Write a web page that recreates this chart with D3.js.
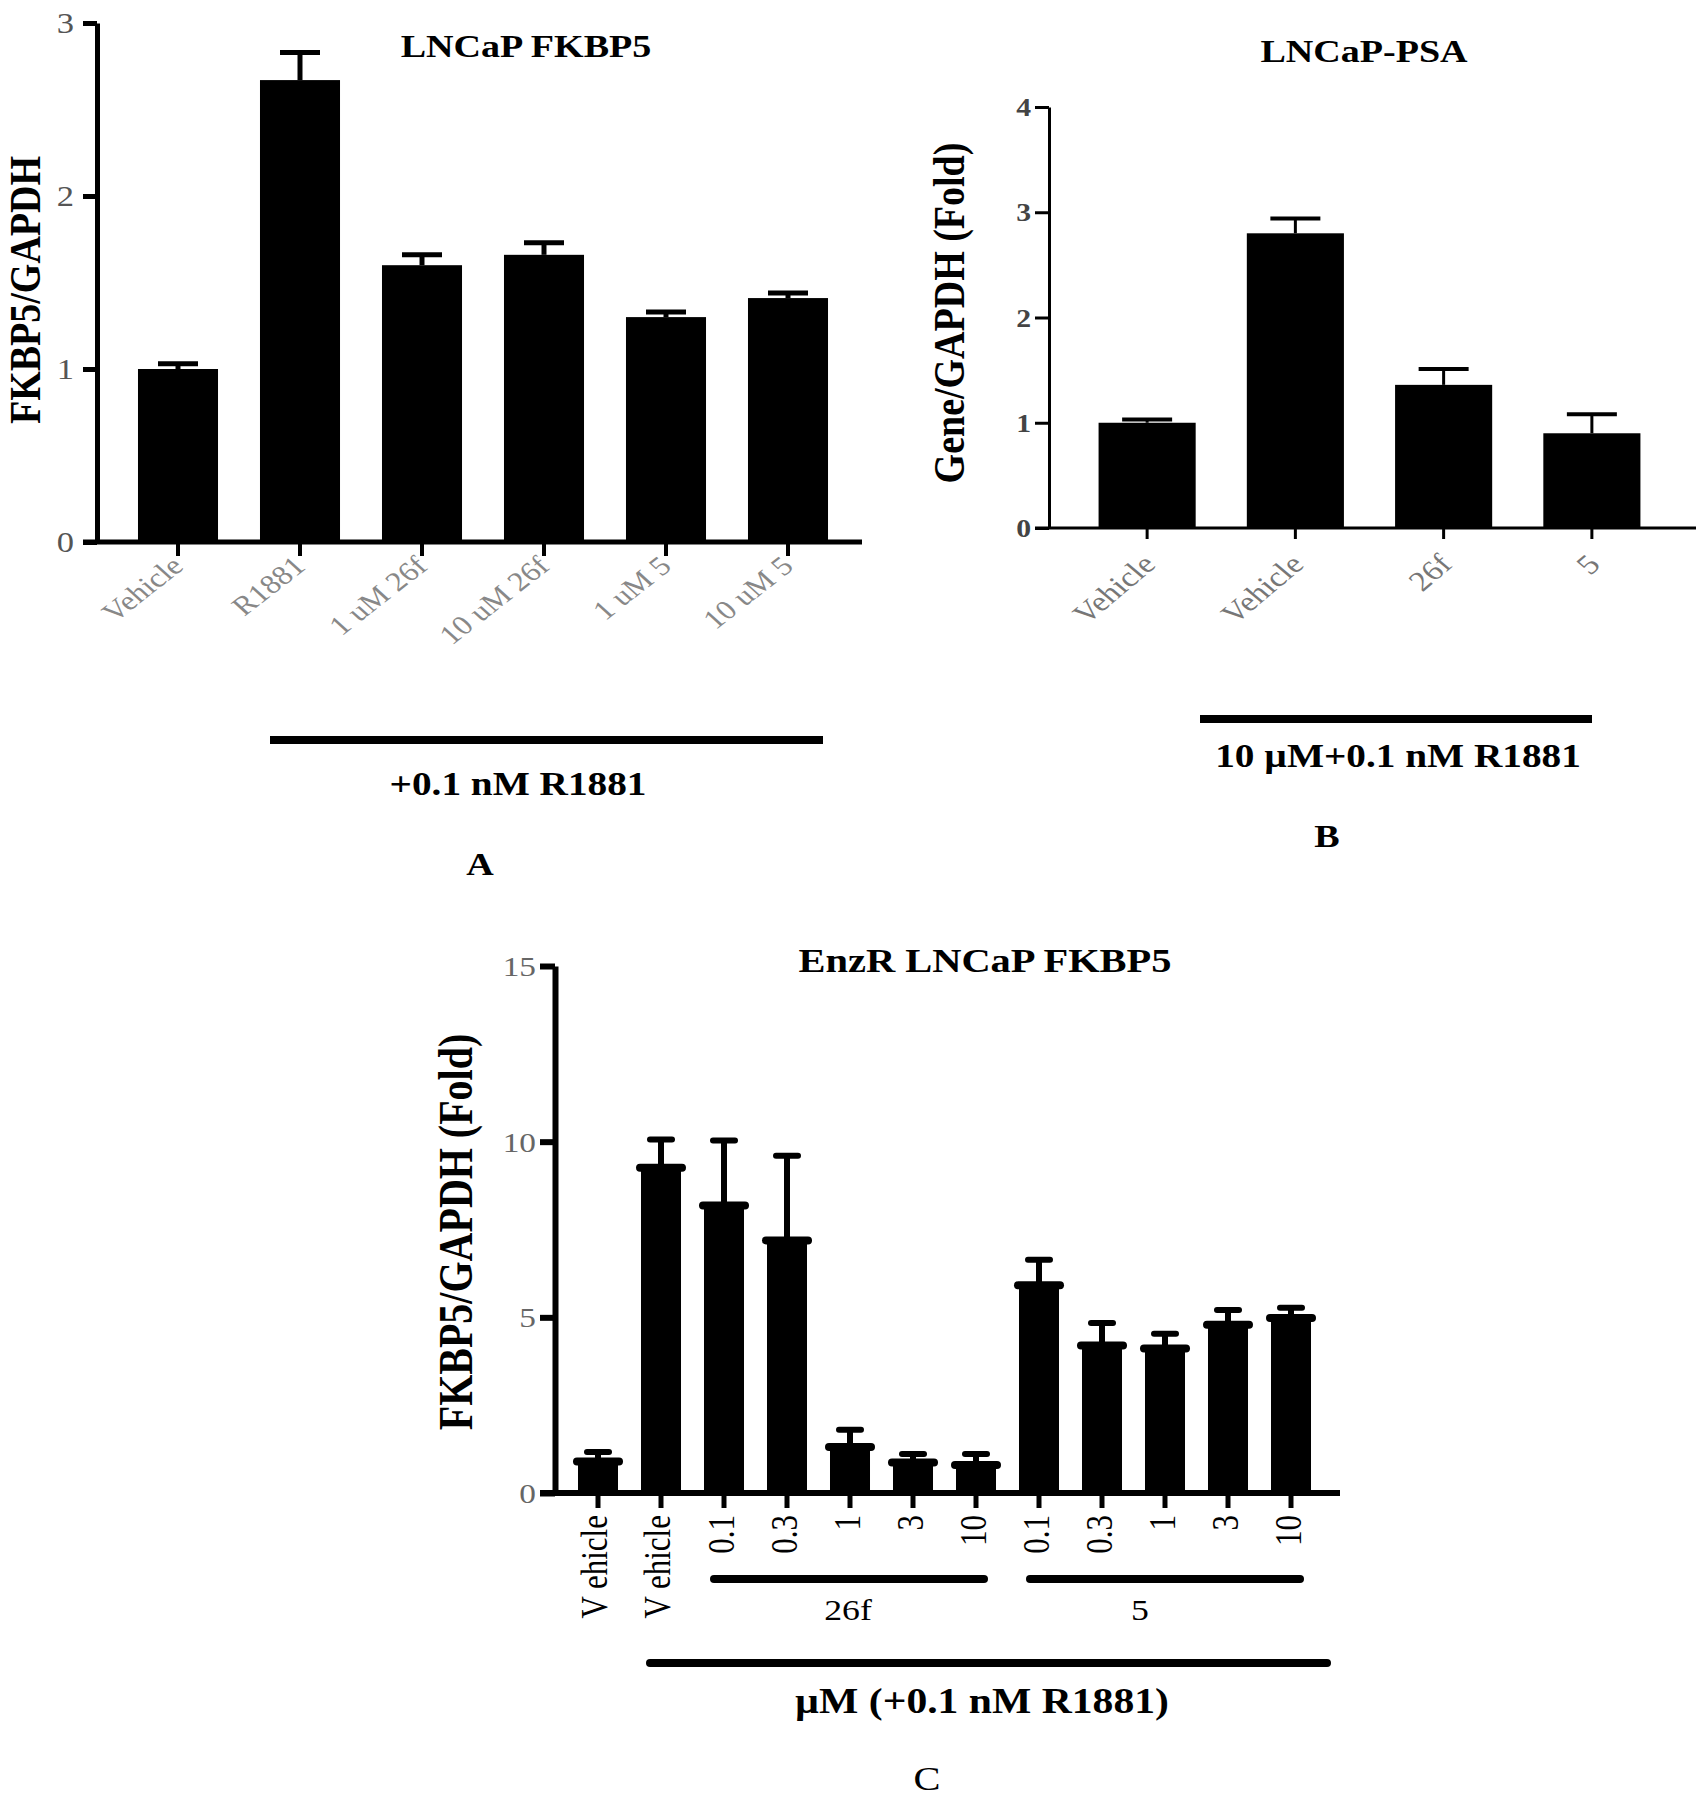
<!DOCTYPE html>
<html>
<head>
<meta charset="utf-8">
<script src="https://cdn.jsdelivr.net/npm/d3@7"></script>
<style>
  body { margin: 0; background: #fff; }
  svg { display: block; font-family: "Liberation Serif", "Times New Roman", serif; }
</style>
</head>
<body>
<div id="chart"></div>
<script>
// panel A - LNCaP FKBP5
var aCats = ["Vehicle", "R1881", "1 uM 26f", "10 uM 26f", "1 uM 5", "10 uM 5"];
var aMeans = [1.00, 2.67, 1.60, 1.66, 1.30, 1.41];
var aErrs = [0.03, 0.16, 0.06, 0.07, 0.03, 0.03];
var aTicks = [0, 1, 2, 3];

// panel B - LNCaP-PSA
var bCats = ["Vehicle", "Vehicle ", "26f", "5"];
var bMeans = [1.00, 2.80, 1.36, 0.90];
var bErrs = [0.03, 0.14, 0.15, 0.18];
var bTicks = [0, 1, 2, 3, 4];

// panel C - EnzR LNCaP FKBP5
var cKeys = ["v1", "v2", "f01", "f03", "f1", "f3", "f10", "c01", "c03", "c1", "c3", "c10"];
var cLabels = ["V ehicle", "V ehicle", "0.1", "0.3", "1", "3", "10", "0.1", "0.3", "1", "3", "10"];
var cMeans = [0.90, 9.26, 8.18, 7.19, 1.31, 0.87, 0.80, 5.91, 4.20, 4.11, 4.79, 4.98];
var cErrs = [0.27, 0.80, 1.85, 2.41, 0.49, 0.24, 0.31, 0.73, 0.64, 0.42, 0.42, 0.29];
var cTicks = [0, 5, 10, 15];

var SX = 1.19; // the figure is stretched sideways, text too

var svg = d3.select("#chart").append("svg")
    .attr("width", 1703).attr("height", 1800);

// text helper: anchor point, horizontal stretch, optional rotation
function txt(x, y, s, o) {
  o = o || {};
  var tr = "translate(" + x + "," + y + ") scale(" + SX + ",1)" + (o.rot ? " rotate(" + o.rot + ")" : "");
  return svg.append("text")
      .attr("transform", tr)
      .attr("text-anchor", o.anchor || "middle")
      .attr("font-size", o.size || 30)
      .attr("font-weight", o.bold ? "bold" : "normal")
      .attr("fill", o.fill || "#000")
      .text(s);
}

function hline(x1, x2, y, w, cap) {
  svg.append("line")
      .attr("x1", x1).attr("x2", x2).attr("y1", y).attr("y2", y)
      .attr("stroke", "#000").attr("stroke-width", w)
      .attr("stroke-linecap", cap || "butt");
}

// ---------- A ----------
var ax = d3.scaleBand().domain(aCats).range([117, 849]).paddingInner(0.344).paddingOuter(0.172);
var ay = d3.scaleLinear().domain([0, 3]).range([542, 23]);

var gA = svg.append("g");
gA.selectAll("rect.bar").data(aCats).enter().append("rect")
    .attr("x", function (d) { return ax(d); })
    .attr("y", function (d, i) { return ay(aMeans[i]); })
    .attr("width", ax.bandwidth())
    .attr("height", function (d, i) { return ay(0) - ay(aMeans[i]); })
    .attr("fill", "#000");
aCats.forEach(function (d, i) {
  var cx = ax(d) + ax.bandwidth() / 2, top = ay(aMeans[i] + aErrs[i]);
  gA.append("line").attr("x1", cx).attr("x2", cx).attr("y1", ay(aMeans[i])).attr("y2", top)
      .attr("stroke", "#000").attr("stroke-width", 5);
  gA.append("line").attr("x1", cx - 20).attr("x2", cx + 20).attr("y1", top).attr("y2", top)
      .attr("stroke", "#000").attr("stroke-width", 5);
});
var aYaxis = svg.append("g").attr("transform", "translate(97,0)")
    .call(d3.axisLeft(ay).tickValues(aTicks).tickSize(14).tickSizeOuter(0).tickFormat(""));
aYaxis.selectAll("path, line").attr("stroke", "#000").attr("stroke-width", 5);
var aXaxis = svg.append("g").attr("transform", "translate(0,542)")
    .call(d3.axisBottom(ax).tickSize(14).tickFormat(""));
aXaxis.select(".domain").remove();
aXaxis.selectAll("line").attr("stroke", "#000").attr("stroke-width", 4);
hline(83, 862, 542, 5);
aTicks.forEach(function (t) {
  txt(74, ay(t) + 10, t, { anchor: "end", size: 29, fill: "#555" });
});
aCats.forEach(function (d) {
  txt(ax(d) + ax.bandwidth() / 2 + 7, 568, d, { anchor: "end", size: 27, fill: "#888", rot: -43 });
});
txt(526, 57, "LNCaP FKBP5", { size: 32, bold: true });
txt(40, 290, "FKBP5/GAPDH", { size: 38, bold: true, rot: -90 });
hline(270, 823, 740, 8);
txt(518, 795, "+0.1 nM R1881", { size: 33, bold: true });
txt(480, 875, "A", { size: 32, bold: true });

// ---------- B ----------
var bx = d3.scaleBand().domain(bCats).range([1073, 1666]).paddingInner(0.345).paddingOuter(0.1725);
var by = d3.scaleLinear().domain([0, 4]).range([528, 107]);

var gB = svg.append("g");
gB.selectAll("rect.bar").data(bCats).enter().append("rect")
    .attr("x", function (d) { return bx(d); })
    .attr("y", function (d, i) { return by(bMeans[i]); })
    .attr("width", bx.bandwidth())
    .attr("height", function (d, i) { return by(0) - by(bMeans[i]); })
    .attr("fill", "#000");
bCats.forEach(function (d, i) {
  var cx = bx(d) + bx.bandwidth() / 2, top = by(bMeans[i] + bErrs[i]);
  gB.append("line").attr("x1", cx).attr("x2", cx).attr("y1", by(bMeans[i])).attr("y2", top)
      .attr("stroke", "#000").attr("stroke-width", 3);
  gB.append("line").attr("x1", cx - 25).attr("x2", cx + 25).attr("y1", top).attr("y2", top)
      .attr("stroke", "#000").attr("stroke-width", 4);
});
var bYaxis = svg.append("g").attr("transform", "translate(1049,0)")
    .call(d3.axisLeft(by).tickValues(bTicks).tickSize(14).tickSizeOuter(0).tickFormat(""));
bYaxis.selectAll("path, line").attr("stroke", "#000").attr("stroke-width", 3);
var bXaxis = svg.append("g").attr("transform", "translate(0,528)")
    .call(d3.axisBottom(bx).tickSize(11).tickFormat(""));
bXaxis.select(".domain").remove();
bXaxis.selectAll("line").attr("stroke", "#000").attr("stroke-width", 3);
hline(1035, 1696, 528, 3);
bTicks.forEach(function (t) {
  txt(1031, by(t) + 9, t, { anchor: "end", size: 25, bold: true, fill: "#444" });
});
bCats.forEach(function (d) {
  txt(bx(d) + bx.bandwidth() / 2 + 10, 566, d.trim(), { anchor: "end", size: 28, fill: "#777", rot: -45 });
});
txt(1364, 62, "LNCaP-PSA", { size: 32, bold: true });
txt(964, 313, "Gene/GAPDH (Fold)", { size: 38, bold: true, rot: -90 });
hline(1200, 1592, 719, 8);
txt(1398, 767, "10 \u00b5M+0.1 nM R1881", { size: 33, bold: true });
txt(1327, 847, "B", { size: 32, bold: true });

// ---------- C ----------
var cx = d3.scaleBand().domain(cKeys).range([566.5, 1322.5]).paddingInner(0.365).paddingOuter(0.1825);
var cy = d3.scaleLinear().domain([0, 15]).range([1493, 966]);

var gC = svg.append("g");
gC.selectAll("rect.bar").data(cKeys).enter().append("rect")
    .attr("x", function (d) { return cx(d); })
    .attr("y", function (d, i) { return cy(cMeans[i]); })
    .attr("width", cx.bandwidth())
    .attr("height", function (d, i) { return cy(0) - cy(cMeans[i]); })
    .attr("fill", "#000");
cKeys.forEach(function (d, i) {
  var mx = cx(d) + cx.bandwidth() / 2, top = cy(cMeans[i] + cErrs[i]), y0 = cy(cMeans[i]);
  // thick lip on top of each bar
  gC.append("line").attr("x1", cx(d) - 1).attr("x2", cx(d) + cx.bandwidth() + 1).attr("y1", y0).attr("y2", y0)
      .attr("stroke", "#000").attr("stroke-width", 8).attr("stroke-linecap", "round");
  gC.append("line").attr("x1", mx).attr("x2", mx).attr("y1", y0).attr("y2", top)
      .attr("stroke", "#000").attr("stroke-width", 6);
  gC.append("line").attr("x1", mx - 11).attr("x2", mx + 11).attr("y1", top).attr("y2", top)
      .attr("stroke", "#000").attr("stroke-width", 6).attr("stroke-linecap", "round");
});
var cYaxis = svg.append("g").attr("transform", "translate(555,0)")
    .call(d3.axisLeft(cy).tickValues(cTicks).tickSize(15).tickSizeOuter(0).tickFormat(""));
cYaxis.selectAll("path, line").attr("stroke", "#000").attr("stroke-width", 6);
var cXaxis = svg.append("g").attr("transform", "translate(0,1493)")
    .call(d3.axisBottom(cx).tickSize(15).tickFormat(""));
cXaxis.select(".domain").remove();
cXaxis.selectAll("line").attr("stroke", "#000").attr("stroke-width", 5);
hline(540, 1340, 1493, 6);
cTicks.forEach(function (t) {
  txt(536, cy(t) + 10, t, { anchor: "end", size: 28, fill: "#666" });
});
cKeys.forEach(function (d, i) {
  var off = cLabels[i].length > 3 ? 9 : 10;
  txt(cx(d) + cx.bandwidth() / 2 + off, 1515, cLabels[i], { anchor: "end", size: 31, rot: -90 });
});
txt(985, 972, "EnzR LNCaP FKBP5", { size: 34, bold: true });
txt(472, 1232, "FKBP5/GAPDH (Fold)", { size: 40, bold: true, rot: -90 });
hline(714, 984, 1579, 8, "round");
hline(1030, 1300, 1579, 8, "round");
txt(848, 1620, "26f", { size: 30 });
txt(1140, 1620, "5", { size: 30 });
hline(650, 1327, 1663, 8, "round");
txt(982, 1713, "\u00b5M (+0.1 nM R1881)", { size: 35, bold: true });
txt(927, 1790, "C", { size: 34 });
</script>
</body>
</html>
